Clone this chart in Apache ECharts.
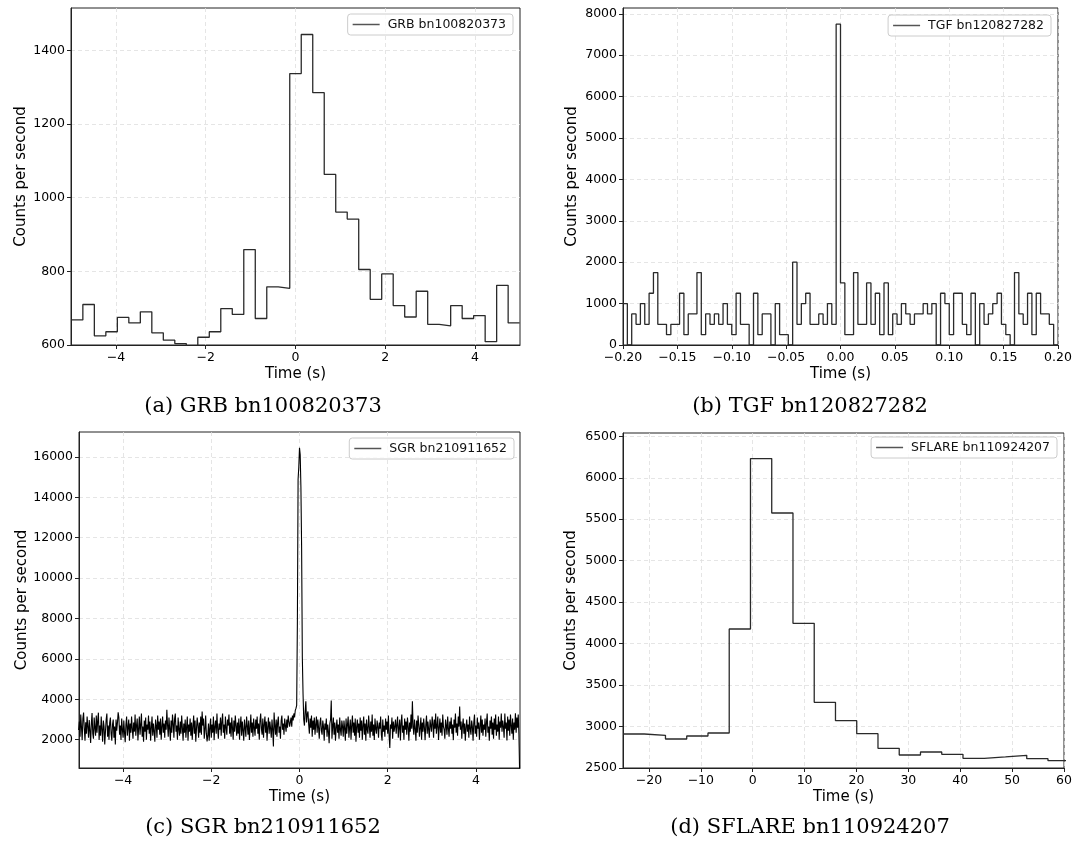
<!DOCTYPE html>
<html>
<head>
<meta charset="utf-8">
<script src="https://cdn.jsdelivr.net/npm/echarts@6/dist/echarts.min.js"></script>
<style>
  html, body { margin: 0; padding: 0; background: #ffffff; }
  #chart { width: 1084px; height: 845px; }
</style>
</head>
<body>
<div id="chart"></div>
<script>
// ---- GRB bn100820373: 0.256 s bins, first bin edge at -4.992 s ----
const grbName = 'GRB bn100820373';
const grbStart = -4.992;
const grbBin = 0.256;
const grbCounts = [668, 710, 625, 636, 675, 660, 690, 633, 613, 604,
                   585, 621, 636, 699, 683, 859, 672, 758, 754, 1337,
                   1443, 1285, 1063, 961, 942, 805, 724, 793, 707, 676,
                   746, 656, 652, 707, 672, 680, 609, 762, 660];
const grbXTicks = [-4, -2, 0, 2, 4];
const grbYTicks = [600, 800, 1000, 1200, 1400];

// ---- TGF bn120827282: 4 ms bins ----
const tgfName = 'TGF bn120827282';
const tgfStart = -0.2;
const tgfBin = 0.004;
const tgfCounts = [1000, 0, 750, 500, 1000, 500, 1250, 1750, 500, 500,
                   250, 500, 500, 1250, 250, 750, 750, 1750, 250, 750,
                   500, 750, 500, 1000, 500, 250, 1250, 500, 500, 0,
                   1250, 250, 750, 750, 0, 1000, 250, 250, 0, 2000,
                   500, 1000, 1250, 500, 500, 750, 500, 1000, 500, 7750,
                   1500, 250, 250, 1750, 500, 500, 1500, 500, 1250, 250,
                   1500, 250, 750, 500, 1000, 750, 500, 750, 750, 1000,
                   750, 1000, 0, 1250, 1000, 250, 1250, 1250, 500, 250,
                   1250, 0, 1000, 500, 750, 1000, 1250, 500, 250, 0,
                   1750, 750, 500, 1250, 250, 1250, 750, 750, 500, 0];
const tgfXTicks = [-0.2, -0.15, -0.1, -0.05, 0, 0.05, 0.1, 0.15, 0.2];
const tgfYTicks = [0, 1000, 2000, 3000, 4000, 5000, 6000, 7000, 8000];

// ---- SGR bn210911652: 16 ms bins, first bin edge at -5.008 s (25 bins per row) ----
const sgrName = 'SGR bn210911652';
const sgrStart = -5.008;
const sgrBin = 0.016;
const sgrCounts = [
  2480,2900,2150,3250,2620, 1980,3050,3350,2540,1950, 2860,2300,3150,2650,2100, 2980,2450,1840,2800,3320, 2300,2050,3100,2600,2200,
  3200,2350,2950,3340,1990, 2700,2200,3150,2500,1900, 2950,2650,1760,2400,3000, 3300,2150,2700,2000,2850, 3100,2300,1950,2750,3000,
  2100,2650,1760,3000,2450, 2850,3360,3100,2250,2700, 1990,3050,2500,2100,2950, 2350,1880,2750,3150,2200, 2600,3000,1950,2800,2350,
  3150,2550,2050,2850,2400, 3250,2200,2700,3050,1960, 2550,3150,2250,2750,3300, 2150,2650,1900,2950,2400, 3100,2000,2750,2500,3200,
  2300,2900,1950,2600,3150, 2200,2800,2400,1900,3000, 2700,2100,3200,2500,2900, 2250,3050,2000,2650,3150, 2350,2800,2100,2950,2500,
  3480,2700,2150,3100,2550, 1950,2950,2350,3250,2800, 2100,3050,3300,2400,2700, 2000,3100,2500,2200,2900, 2300,3200,2600,1950,2800,
  2350,3000,2100,2650,3150, 1950,2750,2400,3050,2200, 2850,2000,2650,3200,2300, 2950,1900,2550,3100,2700, 2100,2850,2350,3150,2250,
  3400,2700,3050,2050,2500, 3200,2300,1920,2200,2800, 1950,2600,3050,2100,2750, 2350,3150,1980,2650,2950, 2300,3300,2550,2050,2800,
  2500,3100,2200,2900,3300, 2350,2750,2050,3150,2600, 2250,3000,2700,3250,2300, 2850,2150,3100,2600,2000, 2950,2400,3200,2700,2200,
  2850,2300,3050,2000,2700, 3150,2200,2900,2450,1950, 3000,2600,2150,3150,2700, 2250,2950,1990,2600,3250, 2350,2850,2150,3050,2600,
  2200,3000,2550,3150,2300, 2800,2000,2950,3300,2550, 2250,3050,2100,2750,3150, 2350,2900,1950,2650,3100, 2300,2900,2550,2100,3000,
  2500,1670,3350,2700,2250, 3000,2150,2850,3150,2350, 2650,2050,2950,3200,2500, 2800,2250,3050,2700,2400, 3000,2600,3200,2900,2650,
  2870,3100,2650,3200,2950, 3300,3100,3450,3550,3700, 7800,14900,15500,16450,16100, 14500,11500,6100,4300,3000, 2700,3400,3900,2850,3250,
  3400,2750,2300,3050,2600, 3200,2150,2950,2500,3100, 2250,2750,3150,2350,3000, 2600,2050,2850,3100,2450, 2250,2950,2650,1950,2800,
  2500,3050,2150,2750,2400, 1830,2800,3000,3940,2050, 2650,3100,2250,2850,1950, 2600,3000,2350,2750,2050, 3100,2500,2200,2950,2650,
  2150,2950,2550,1950,3050, 2300,2750,3150,2100,2600, 3000,2000,2700,3200,2350, 2850,2200,3050,1900,2650, 3000,2350,2800,2100,3100,
  2450,2950,2000,2700,3150, 2250,2800,1950,3000,2500, 2300,3200,2650,2100,2900, 2400,3250,2200,2750,1990, 3050,2550,2300,2950,2650,
  2100,2850,2550,3150,2250, 1950,3000,2400,2700,2150, 3050,2500,2900,2300,3200, 2200,1590,2750,2550,3100, 2050,2900,2400,2650,3000,
  2300,2750,3150,2100,2600, 3000,1960,2800,3250,2350, 2700,2000,3050,2500,2900, 2250,3100,2650,1950,2850, 2400,3250,2550,3900,2650,
  2250,3000,2550,1950,2950, 2350,3200,2750,2150,2600, 3100,2000,2850,2400,3050, 2600,1980,2750,3200,2300, 2900,2500,2100,3000,2700,
  2400,3150,2800,2100,3000, 2550,3300,2300,2700,3150, 1990,2600,3050,2350,2850, 2200,3250,2650,2500,2050, 3000,2700,2250,3150,2550,
  2150,2900,2550,3100,2300, 2750,1980,3000,2600,3300, 2350,2800,2200,3150,2650, 3650,2500,2900,2050,2700, 3050,2300,2800,1950,2600,
  3000,2400,2750,2100,3150, 2550,2250,2950,2650,1950, 2850,3250,2300,2700,2150, 3100,2550,2850,2000,2650, 3200,2350,3000,2200,2750,
  2500,3050,2150,2850,3300, 2350,2650,1950,2950,2550, 3150,2250,2850,2050,3050, 2500,3250,2200,2750,2400, 3150,2000,2900,2600,3300,
  2400,2950,2650,2100,3300, 2550,2850,1960,3150,2450, 3000,2200,3250,2700,2300, 3050,2000,2850,2500,3310, 2350,3100,2600,3250,2250,
  300
];
const sgrXTicks = [-4, -2, 0, 2, 4];
const sgrYTicks = [2000, 4000, 6000, 8000, 10000, 12000, 14000, 16000];

// ---- SFLARE bn110924207: 4.096 s bins ----
const sflName = 'SFLARE bn110924207';
const sflStart = -25.006;
const sflBin = 4.096;
const sflCounts = [2910, 2894, 2850, 2886, 2922, 4176, 6231, 5575, 4245, 3292,
                   3071, 2914, 2737, 2657, 2693, 2665, 2617, 2633, 2653, 2613, 2588];
const sflXTicks = [-20, -10, 0, 10, 20, 30, 40, 50, 60];
const sflYTicks = [2500, 3000, 3500, 4000, 4500, 5000, 5500, 6000, 6500];

const captions = ['(a) GRB bn100820373', '(b) TGF bn120827282',
                  '(c) SGR bn210911652', '(d) SFLARE bn110924207'];

// Histogram edges -> step-post points (last value repeated at the closing edge)
function stepPoints(start, width, counts) {
  const pts = counts.map((c, i) => [start + width * i, c]);
  pts.push([start + width * counts.length, counts[counts.length - 1]]);
  return pts;
}

const minus = s => String(s).replace('-', '\u2212');
const FONT = 'DejaVu Sans';
const gridLine = { show: true, lineStyle: { color: '#dedede', width: 0.8, type: [4, 3] } };
const spine = { show: true, onZero: false, lineStyle: { color: '#222', width: 1 } };

const panels = [
  { name: grbName, pts: stepPoints(grbStart, grbBin, grbCounts), xr: [-5, 5], yr: [600, 1515],
    xt: grbXTicks, yt: grbYTicks, xf: v => minus(v), grid: { left: 71, top: 8, width: 449, height: 337 },
    yGap: 42, legend: { right: 571, top: 14 }, color: '#2a2a2a', lw: 1.3 },
  { name: tgfName, pts: stepPoints(tgfStart, tgfBin, tgfCounts), xr: [-0.2, 0.2], yr: [0, 8140],
    xt: tgfXTicks, yt: tgfYTicks, xf: v => minus(Number(v).toFixed(2)), grid: { left: 623, top: 8, width: 435, height: 337 },
    yGap: 43, legend: { right: 33, top: 15 }, color: '#2a2a2a', lw: 1.3 },
  { name: sgrName, pts: stepPoints(sgrStart, sgrBin, sgrCounts), xr: [-5, 5], yr: [600, 17235],
    xt: sgrXTicks, yt: sgrYTicks, xf: v => minus(v), grid: { left: 79, top: 432, width: 441, height: 336 },
    yGap: 49, legend: { right: 570, top: 438 }, color: '#000000', lw: 1.1 },
  { name: sflName, pts: stepPoints(sflStart, sflBin, sflCounts), xr: [-25, 60], yr: [2500, 6540],
    xt: sflXTicks, yt: sflYTicks, xf: v => minus(v), grid: { left: 623, top: 433, width: 441, height: 335 },
    yGap: 44, legend: { right: 27, top: 437 }, color: '#2a2a2a', lw: 1.3 }
];

const option = {
  animation: false,
  backgroundColor: '#ffffff',
  textStyle: { fontFamily: FONT },
  grid: panels.map(p => Object.assign({ show: true, borderColor: '#222', borderWidth: 1,
                                        backgroundColor: 'transparent' }, p.grid)),
  xAxis: panels.map((p, i) => ({
    type: 'value', gridIndex: i, min: p.xr[0], max: p.xr[1],
    name: 'Time (s)', nameLocation: 'middle', nameGap: 22,
    nameTextStyle: { fontFamily: FONT, fontSize: 15, color: '#000' },
    axisLine: spine,
    axisTick: { show: true, length: 4, lineStyle: { color: '#222' }, customValues: p.xt },
    axisLabel: { fontFamily: FONT, fontSize: 12.5, color: '#000', margin: 6,
                 customValues: p.xt, formatter: p.xf },
    splitLine: gridLine
  })),
  yAxis: panels.map((p, i) => ({
    type: 'value', gridIndex: i, min: p.yr[0], max: p.yr[1],
    name: 'Counts per second', nameLocation: 'middle', nameGap: p.yGap,
    nameTextStyle: { fontFamily: FONT, fontSize: 15, color: '#000' },
    axisLine: spine,
    axisTick: { show: true, length: 4, lineStyle: { color: '#222' }, customValues: p.yt },
    axisLabel: { fontFamily: FONT, fontSize: 12.5, color: '#000', margin: 6,
                 customValues: p.yt, formatter: v => String(v) },
    splitLine: gridLine
  })),
  legend: panels.map(p => ({
    data: [p.name], right: p.legend.right, top: p.legend.top,
    orient: 'vertical', icon: 'rect', itemWidth: 27, itemHeight: 1.5,
    itemStyle: { color: '#555' },
    backgroundColor: 'rgba(255,255,255,0.8)', borderColor: '#cccccc', borderWidth: 1, borderRadius: 3,
    padding: [4, 7, 4, 5],
    textStyle: { fontFamily: FONT, fontSize: 12.5, color: '#111', padding: [0, 0, 0, 3] }
  })),
  series: panels.map((p, i) => ({
    name: p.name, type: 'line', xAxisIndex: i, yAxisIndex: i,
    step: 'end', data: p.pts, showSymbol: false, symbol: 'none', clip: true,
    lineStyle: { color: p.color, width: p.lw }, itemStyle: { color: p.color },
    emphasis: { disabled: true }
  })),
  graphic: captions.map((t, i) => ({
    type: 'text', x: i % 2 === 0 ? 263 : 810, y: i < 2 ? 407 : 828,
    style: { text: t, align: 'center', verticalAlign: 'middle',
             font: '21px "DejaVu Serif"', fill: '#000' }
  }))
};

const chart = echarts.init(document.getElementById('chart'), null, { renderer: 'canvas' });
chart.setOption(option);
</script>
</body>
</html>
